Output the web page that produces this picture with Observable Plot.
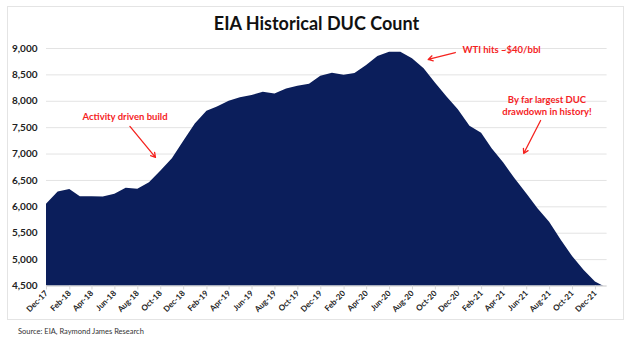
<!DOCTYPE html>
<html>
<head>
<meta charset="utf-8">
<script src="https://cdn.jsdelivr.net/npm/d3@7"></script>
<script src="https://cdn.jsdelivr.net/npm/@observablehq/plot@0.6"></script>
<style>
  html, body { margin: 0; padding: 0; background: #fff; }
  #wrap { position: relative; width: 633px; height: 342px; background: #fff; font-family: Lato, "Open Sans", sans-serif; overflow: hidden; }
  #frame { position: absolute; left: 7px; top: 6px; width: 617px; height: 314px; border: 1px solid #e4e4e4; box-sizing: border-box; }
  #title { position: absolute; left: 0; top: 10px; width: 633px; text-align: center; font-size: 18px; font-weight: bold; line-height: 26px; color: #111; }
  #chart { position: absolute; left: 0; top: 40px; }
  #chart svg { overflow: visible; }
  #source { position: absolute; left: 18px; top: 326px; font-size: 7.5px; line-height: 12px; color: #333; }
</style>
</head>
<body>
<div id="wrap">
  <div id="frame"></div>
  <div id="title">EIA Historical DUC Count</div>
  <div id="chart"></div>
  <div id="source">Source: EIA, Raymond James Research</div>
</div>
<script>
// ---- data ----
const months = [
  "Dec-17",
  "Jan-18","Feb-18","Mar-18","Apr-18","May-18","Jun-18","Jul-18","Aug-18","Sep-18","Oct-18","Nov-18","Dec-18",
  "Jan-19","Feb-19","Mar-19","Apr-19","May-19","Jun-19","Jul-19","Aug-19","Sep-19","Oct-19","Nov-19","Dec-19",
  "Jan-20","Feb-20","Mar-20","Apr-20","May-20","Jun-20","Jul-20","Aug-20","Sep-20","Oct-20","Nov-20","Dec-20",
  "Jan-21","Feb-21","Mar-21","Apr-21","May-21","Jun-21","Jul-21","Aug-21","Sep-21","Oct-21","Nov-21","Dec-21",
  "Jan-22"
];
const ducCount = [
  6050,
  6280, 6330, 6190, 6190, 6185, 6240, 6350, 6335, 6455, 6675, 6910, 7240,
  7570, 7810, 7890, 8000, 8065, 8110, 8170, 8140, 8235, 8285, 8325, 8475,
  8530, 8495, 8525, 8680, 8850, 8930, 8930, 8805, 8615, 8345, 8080, 7840,
  7525, 7395, 7100, 6830, 6530, 6250, 5965, 5710, 5365, 5060, 4795, 4575,
  4460
];
const xTickLabels = [
  "Dec-17","Feb-18","Apr-18","Jun-18","Aug-18","Oct-18","Dec-18",
  "Feb-19","Apr-19","Jun-19","Aug-19","Oct-19","Dec-19",
  "Feb-20","Apr-20","Jun-20","Aug-20","Oct-20","Dec-20",
  "Feb-21","Apr-21","Jun-21","Aug-21","Oct-21","Dec-21"
];
const yTicks = [4500, 5000, 5500, 6000, 6500, 7000, 7500, 8000, 8500, 9000];

// annotations (in data units: date, DUC count)
const noteText  = ["Activity driven build", "WTI hits ~$40/bbl", "By far largest DUC\ndrawdown in history!"];
const noteX     = ["2018-06-28", "2020-12-12", "2021-07-25"];
const noteY     = [7731, 8975, 7930];
const noteAnchor = ["middle", "start", "middle"];
const arrowX1 = ["2018-07-11", "2020-11-23", "2021-07-08"];
const arrowY1 = [7523, 8924, 7636];
const arrowX2 = ["2018-09-17", "2020-09-12", "2021-05-24"];
const arrowY2 = [6936, 8792, 7011];

// ---- build ----
const parseM = d3.utcParse("%b-%y");
const fmtM = d3.utcFormat("%b-%y");
const data = months.map((m, i) => ({date: parseM(m), value: ducCount[i]}));
const tickDates = xTickLabels.map(parseM);
const notes = noteText.map((t, i) => ({text: t, x: new Date(noteX[i]), y: noteY[i], anchor: noteAnchor[i]}));
const arrows = arrowX1.map((d, i) => ({x1: new Date(d), y1: arrowY1[i], x2: new Date(arrowX2[i]), y2: arrowY2[i]}));

const RED = "#f5231f";
const NAVY = "#0b1e5b";

const chart = Plot.plot({
  width: 633,
  height: 280,
  marginTop: 8,
  marginBottom: 34.5,
  marginLeft: 46,
  marginRight: 26.4,
  style: {fontFamily: "Lato, 'Open Sans', sans-serif", background: "transparent"},
  x: {type: "utc", domain: [data[0].date, data[data.length - 1].date], label: null},
  y: {domain: [4500, 9000], label: null},
  marks: [
    Plot.ruleY(yTicks, {stroke: "#e3e3e3", strokeWidth: 1}),
    Plot.areaY(data, {x: "date", y: "value", fill: NAVY, clip: true}),
    Plot.ruleY([4500], {stroke: "#d6d6d6", strokeWidth: 1}),
    Plot.axisY({ticks: yTicks, tickFormat: d3.format(","), tickSize: 0, tickPadding: 9,
      fontSize: 10, fontWeight: "bold", fill: "#222", label: null}),
    Plot.axisX({ticks: tickDates, tickFormat: fmtM, tickRotate: -45, tickSize: 4, tickPadding: 2,
      stroke: "#d6d6d6", fill: "#222", fontSize: 8, fontWeight: "bold", label: null}),
    Plot.arrow(arrows, {x1: "x1", y1: "y1", x2: "x2", y2: "y2", stroke: RED, strokeWidth: 1.3, headLength: 6}),
    Plot.text(notes.filter(d => d.anchor === "middle"), {x: "x", y: "y", text: "text", fill: RED,
      fontSize: 9.5, fontWeight: "bold", textAnchor: "middle", lineHeight: 1.35}),
    Plot.text(notes.filter(d => d.anchor === "start"), {x: "x", y: "y", text: "text", fill: RED,
      fontSize: 9.5, fontWeight: "bold", textAnchor: "start"})
  ]
});
document.getElementById("chart").appendChild(chart);
</script>
</body>
</html>
